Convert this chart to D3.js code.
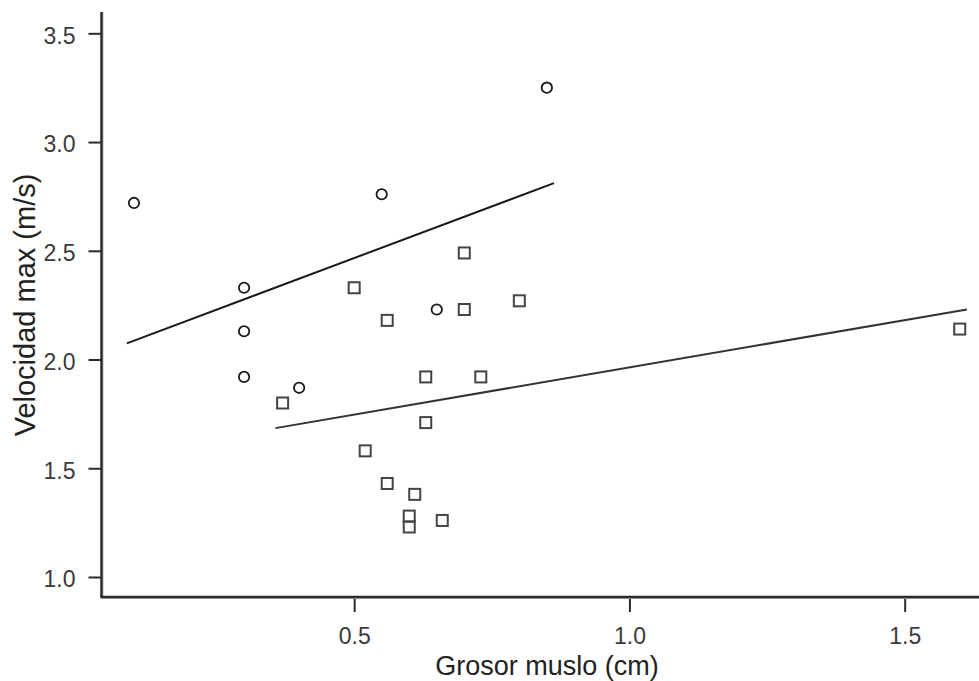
<!DOCTYPE html>
<html>
<head>
<meta charset="utf-8">
<script src="https://cdn.jsdelivr.net/npm/d3@7"></script>
<style>
  html, body { margin: 0; padding: 0; background: #fff; }
  svg { display: block; }
  text { font-family: "Liberation Sans", Arial, sans-serif; }
</style>
</head>
<body>
<svg id="chart" width="979" height="681"></svg>
<script>
// Group 1 (circles): thigh thickness (cm) vs. max velocity (m/s)
const circleX = [0.10, 0.30, 0.30, 0.30, 0.40, 0.55, 0.65, 0.85];
const circleY = [2.72, 2.33, 2.13, 1.92, 1.87, 2.76, 2.23, 3.25];

// Group 2 (squares)
const squareX = [0.50, 0.56, 0.70, 0.70, 0.80, 0.63, 0.73, 0.63, 0.37, 0.52, 0.56, 0.61, 0.60, 0.60, 0.66, 1.60];
const squareY = [2.33, 2.18, 2.49, 2.23, 2.27, 1.92, 1.92, 1.71, 1.80, 1.58, 1.43, 1.38, 1.28, 1.23, 1.26, 2.14];

const xTicks = [0.5, 1.0, 1.5];
const yTicks = [1.0, 1.5, 2.0, 2.5, 3.0, 3.5];
const xTitle = "Grosor muslo (cm)";
const yTitle = "Velocidad max (m/s)";

const svg = d3.select("#chart");
const plotLeft = 101.5, plotRight = 979, plotTop = 12, plotBottom = 597;

const x = d3.scaleLinear().domain([0.041, 1.635]).range([plotLeft, plotRight]);
const y = d3.scaleLinear().domain([0.908, 3.598]).range([plotBottom, plotTop]);

// least-squares fit line, drawn slightly past the group's x range
function fit(xs, ys) {
  const mx = d3.mean(xs), my = d3.mean(ys);
  let sxy = 0, sxx = 0;
  xs.forEach((v, i) => { sxy += (v - mx) * (ys[i] - my); sxx += (v - mx) * (v - mx); });
  const b = sxy / sxx, a = my - b * mx;
  const pad = 0.013;
  const x0 = d3.min(xs) - pad, x1 = d3.max(xs) + pad;
  return [[x0, a + b * x0], [x1, a + b * x1]];
}

const line = d3.line().x(d => x(d[0])).y(d => y(d[1]));

// axes
const axisColor = "#2b2b2b";
const gy = svg.append("g").attr("transform", `translate(${plotLeft},0)`)
  .call(d3.axisLeft(y).tickValues(yTicks).tickFormat(d3.format(".1f")).tickSize(13).tickPadding(13));
const gx = svg.append("g").attr("transform", `translate(0,${plotBottom})`)
  .call(d3.axisBottom(x).tickValues(xTicks).tickFormat(d3.format(".1f")).tickSize(15).tickPadding(13));

[gx, gy].forEach(g => {
  g.select(".domain").remove();
  g.selectAll(".tick line").attr("stroke", axisColor).attr("stroke-width", 2);
  g.selectAll(".tick text").attr("fill", "#3a3a3a").attr("font-size", 23);
});
gy.selectAll(".tick text").attr("dy", "0.43em");
gx.selectAll(".tick text").attr("dy", 0).attr("y", 47);

// axis lines with a soft grey edge
svg.append("line").attr("x1", plotLeft + 1.5).attr("x2", plotLeft + 1.5).attr("y1", plotTop).attr("y2", plotBottom + 1.5)
  .attr("stroke", "#b5b5b5").attr("stroke-width", 1);
svg.append("line").attr("x1", plotLeft).attr("x2", plotRight).attr("y1", plotBottom + 1.5).attr("y2", plotBottom + 1.5)
  .attr("stroke", "#b5b5b5").attr("stroke-width", 1);
svg.append("line").attr("x1", plotLeft).attr("x2", plotLeft).attr("y1", plotTop).attr("y2", plotBottom)
  .attr("stroke", axisColor).attr("stroke-width", 2.5);
svg.append("line").attr("x1", plotLeft - 1.25).attr("x2", plotRight).attr("y1", plotBottom).attr("y2", plotBottom)
  .attr("stroke", axisColor).attr("stroke-width", 2.5);

// fit lines
svg.append("path").attr("d", line(fit(circleX, circleY)))
  .attr("fill", "none").attr("stroke", "#1a1a1a").attr("stroke-width", 2);
svg.append("path").attr("d", line(fit(squareX, squareY)))
  .attr("fill", "none").attr("stroke", "#333").attr("stroke-width", 2);

// markers
svg.append("g").selectAll("circle").data(circleX.map((v, i) => [v, circleY[i]]))
  .join("circle")
  .attr("cx", d => x(d[0])).attr("cy", d => y(d[1])).attr("r", 5.2)
  .attr("fill", "none").attr("stroke", "#1a1a1a").attr("stroke-width", 1.8);

const s = 11;
svg.append("g").selectAll("rect").data(squareX.map((v, i) => [v, squareY[i]]))
  .join("rect")
  .attr("x", d => x(d[0]) - s / 2).attr("y", d => y(d[1]) - s / 2)
  .attr("width", s).attr("height", s)
  .attr("fill", "none").attr("stroke", "#444").attr("stroke-width", 2);

// titles
svg.append("text").attr("x", 547).attr("y", 675).attr("text-anchor", "middle")
  .attr("font-size", 27).attr("fill", "#222").text(xTitle);
svg.append("text").attr("transform", "translate(35,305) rotate(-90)").attr("text-anchor", "middle")
  .attr("font-size", 29).attr("fill", "#222").text(yTitle);
</script>
</body>
</html>
